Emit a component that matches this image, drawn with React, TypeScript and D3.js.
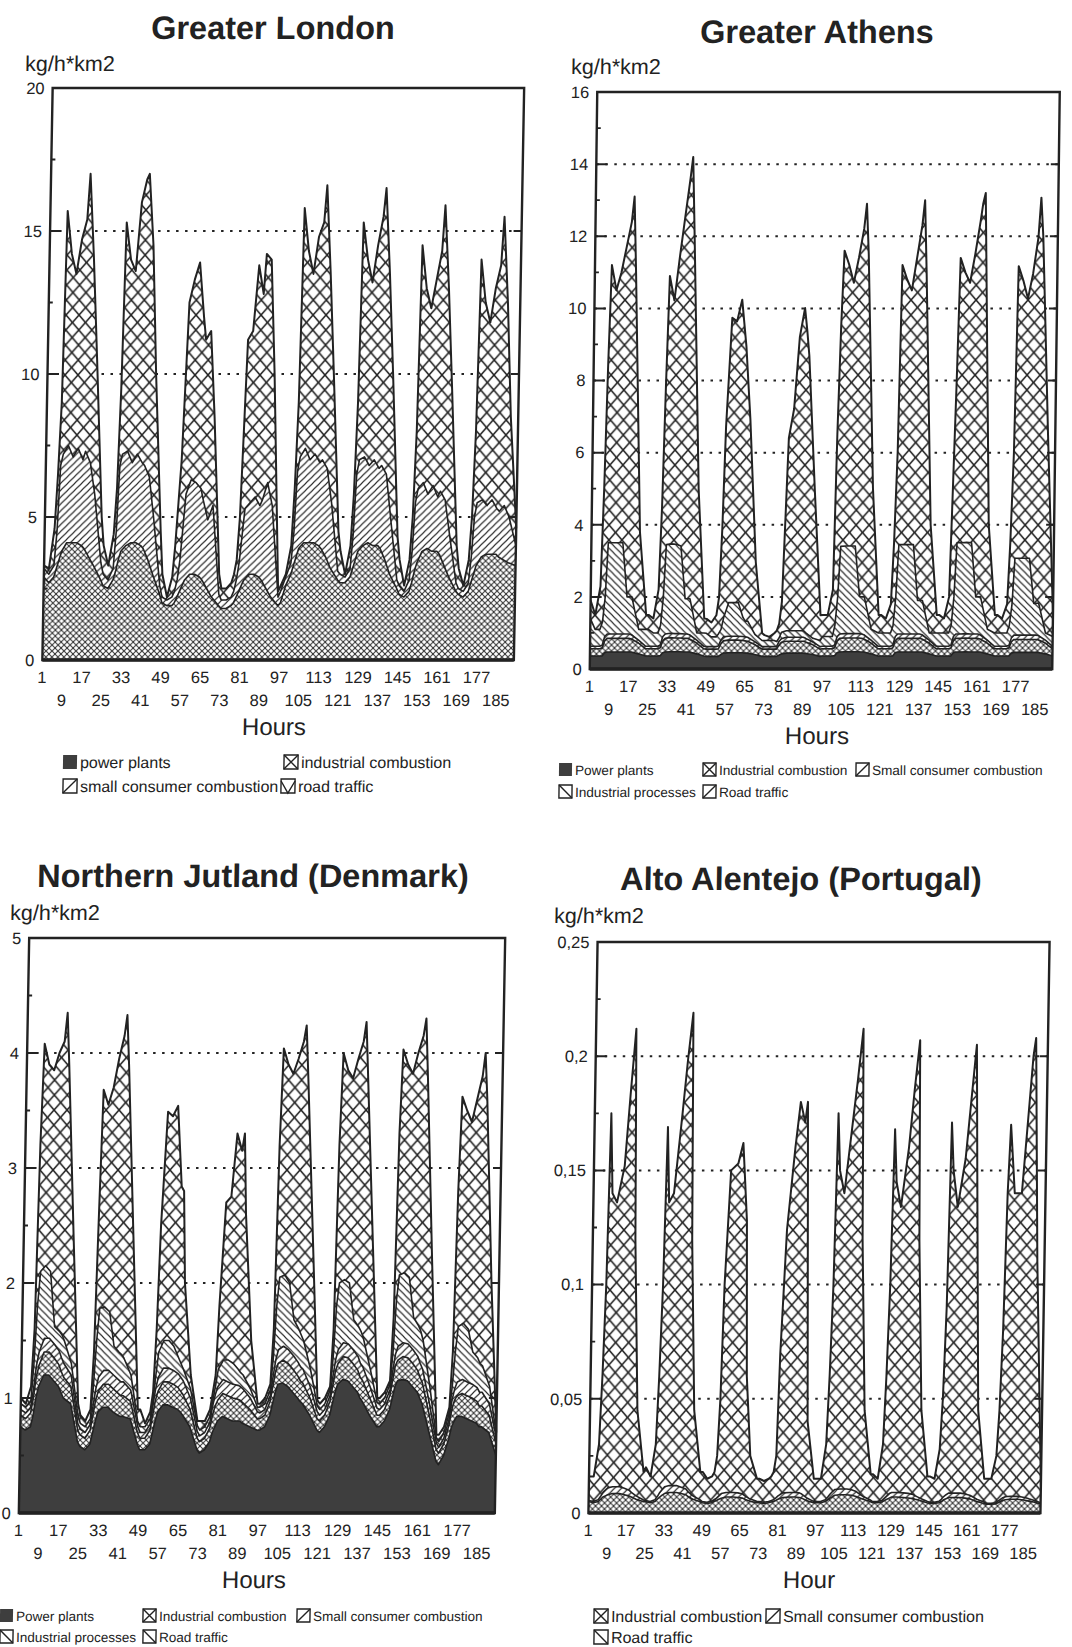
import React from 'react'
import * as d3 from 'd3'

// hour of the day at which each reading was taken, same grid for all 8 days
const londonDayHours = [1, 3, 5, 6, 7, 8, 10, 12, 14, 16, 17, 19, 21, 24]
const athensDayHours = [1, 3, 5, 6, 7, 8, 10, 12, 14, 16, 17, 18, 21, 24]
const jutlandDayHours = [1, 3, 5, 6, 7, 8, 10, 12, 14, 16, 17, 18, 21, 24]
const portugalDayHours = [1, 3, 5, 6, 7, 8, 9, 11, 14, 16, 18, 19, 21, 24]

const hourLabels = [1, 9, 17, 25, 33, 41, 49, 57, 65, 73, 81, 89, 97, 105, 113, 121, 129, 137, 145, 153, 161, 169, 177, 185]

const londonTicks = [0, 5, 10, 15, 20]
const athensTicks = [0, 2, 4, 6, 8, 10, 12, 14, 16]
const jutlandTicks = [0, 1, 2, 3, 4, 5]
const portugalTicks = [0, 0.05, 0.1, 0.15, 0.2, 0.25]

// ---- Greater London (one row per day) ----
const londonIndustrial = [
  [2.9, 2.7, 2.9, 3.2, 3.5, 3.8, 4.1, 4.1, 4.1, 4.0, 3.9, 3.6, 3.3, 2.8],
  [2.6, 2.5, 2.8, 3.1, 3.5, 3.8, 4.0, 4.1, 4.1, 4.0, 3.9, 3.5, 3.0, 2.3],
  [2.0, 1.9, 1.9, 2.0, 2.2, 2.4, 2.8, 3.0, 3.0, 2.9, 2.8, 2.5, 2.2, 1.9],
  [1.8, 1.8, 1.9, 2.0, 2.2, 2.4, 2.8, 3.0, 3.0, 2.9, 2.8, 2.5, 2.2, 1.9],
  [2.0, 2.6, 3.0, 3.3, 3.6, 3.9, 4.1, 4.1, 4.1, 4.0, 3.9, 3.6, 3.2, 2.8],
  [2.7, 2.7, 2.9, 3.2, 3.5, 3.8, 4.0, 4.1, 4.0, 4.0, 3.9, 3.5, 3.0, 2.5],
  [2.3, 2.2, 2.4, 2.7, 3.1, 3.4, 3.8, 3.9, 3.8, 3.8, 3.7, 3.3, 2.9, 2.4],
  [2.3, 2.2, 2.4, 2.7, 3.0, 3.3, 3.6, 3.7, 3.7, 3.7, 3.6, 3.5, 3.4, 3.3],
]
const londonSmall = [
  [0.3, 0.3, 0.4, 1.3, 3.3, 3.4, 3.4, 3.0, 3.3, 3.0, 3.4, 3.3, 2.5, 0.6],
  [0.4, 0.3, 0.4, 1.4, 3.3, 3.4, 3.3, 2.8, 3.1, 2.9, 2.9, 2.9, 2.0, 0.3],
  [0.2, 0.2, 0.3, 0.4, 0.6, 1.1, 3.0, 3.3, 3.2, 3.1, 2.8, 2.4, 3.2, 0.4],
  [0.3, 0.3, 0.3, 0.4, 0.6, 1.0, 2.5, 2.5, 2.7, 2.5, 2.8, 3.7, 3.2, 0.3],
  [0.4, 0.3, 0.4, 1.2, 3.0, 3.2, 3.3, 2.9, 3.1, 2.9, 3.1, 3.1, 2.3, 0.3],
  [0.3, 0.2, 0.3, 1.2, 3.0, 3.2, 3.1, 2.7, 3.0, 2.7, 2.9, 3.0, 2.0, 0.3],
  [0.3, 0.2, 0.4, 1.1, 2.4, 2.6, 2.4, 1.9, 2.3, 1.9, 2.2, 2.3, 1.5, 0.3],
  [0.2, 0.2, 0.3, 0.9, 2.0, 2.2, 2.0, 1.7, 1.9, 1.6, 1.6, 1.9, 1.6, 0.7],
]
const londonRoad = [
  [0.1, 0.2, 1.3, 2.0, 2.2, 8.5, 6.7, 6.4, 7.3, 8.4, 9.7, 7.1, 4.7, 1.6],
  [1.0, 0.5, 1.2, 1.5, 2.7, 8.1, 6.7, 6.7, 8.8, 9.9, 10.2, 8.1, 5.0, 1.9],
  [0.8, 0.1, 0.7, 1.6, 2.7, 3.5, 6.7, 7.0, 7.7, 6.0, 5.6, 6.6, 3.1, 0.7],
  [0.4, 0.4, 0.5, 0.6, 0.7, 1.6, 5.9, 6.0, 8.1, 7.4, 8.6, 7.8, 4.6, 0.2],
  [0.2, 0.1, 0.6, 1.5, 2.4, 8.7, 6.9, 6.5, 7.6, 8.4, 9.6, 6.8, 4.5, 1.4],
  [0.8, 0.1, 0.8, 1.4, 2.5, 8.3, 6.9, 6.4, 7.5, 8.8, 9.7, 7.0, 5.0, 1.5],
  [0.9, 0.2, 0.7, 1.2, 2.5, 8.5, 6.8, 6.5, 7.2, 8.6, 10.0, 7.4, 5.1, 1.3],
  [0.7, 0.2, 0.8, 1.4, 3.0, 8.5, 6.9, 6.4, 7.4, 8.5, 10.3, 7.1, 3.5, 0.6],
]

// ---- Greater Athens ----
const athensPower = [
  [0.36, 0.36, 0.36, 0.36, 0.45, 0.47, 0.47, 0.47, 0.47, 0.47, 0.47, 0.47, 0.42, 0.36],
  [0.36, 0.36, 0.36, 0.37, 0.45, 0.47, 0.48, 0.48, 0.48, 0.47, 0.47, 0.47, 0.42, 0.36],
  [0.35, 0.35, 0.35, 0.35, 0.4, 0.44, 0.45, 0.45, 0.45, 0.45, 0.44, 0.44, 0.4, 0.35],
  [0.35, 0.35, 0.35, 0.35, 0.38, 0.42, 0.44, 0.44, 0.44, 0.44, 0.44, 0.43, 0.4, 0.35],
  [0.36, 0.36, 0.36, 0.37, 0.45, 0.47, 0.48, 0.48, 0.48, 0.48, 0.47, 0.47, 0.42, 0.36],
  [0.36, 0.36, 0.36, 0.36, 0.45, 0.47, 0.47, 0.47, 0.47, 0.47, 0.47, 0.47, 0.42, 0.36],
  [0.36, 0.36, 0.36, 0.36, 0.45, 0.47, 0.47, 0.48, 0.47, 0.47, 0.47, 0.47, 0.42, 0.36],
  [0.36, 0.36, 0.36, 0.36, 0.44, 0.46, 0.46, 0.46, 0.46, 0.46, 0.46, 0.46, 0.42, 0.36],
]
const athensIndustrial = [
  [0.2, 0.2, 0.2, 0.22, 0.33, 0.38, 0.38, 0.38, 0.38, 0.38, 0.38, 0.36, 0.3, 0.2],
  [0.2, 0.2, 0.2, 0.22, 0.33, 0.38, 0.39, 0.38, 0.38, 0.38, 0.38, 0.36, 0.3, 0.2],
  [0.2, 0.2, 0.2, 0.21, 0.3, 0.34, 0.35, 0.35, 0.35, 0.34, 0.34, 0.33, 0.28, 0.2],
  [0.2, 0.2, 0.2, 0.2, 0.28, 0.32, 0.33, 0.33, 0.33, 0.33, 0.33, 0.32, 0.27, 0.2],
  [0.2, 0.2, 0.2, 0.22, 0.33, 0.38, 0.38, 0.38, 0.38, 0.38, 0.38, 0.36, 0.3, 0.2],
  [0.2, 0.2, 0.2, 0.22, 0.33, 0.38, 0.38, 0.38, 0.38, 0.38, 0.38, 0.36, 0.3, 0.2],
  [0.2, 0.2, 0.2, 0.22, 0.33, 0.38, 0.38, 0.38, 0.38, 0.38, 0.38, 0.36, 0.3, 0.2],
  [0.2, 0.2, 0.2, 0.22, 0.32, 0.36, 0.36, 0.36, 0.36, 0.36, 0.36, 0.35, 0.3, 0.2],
]
const athensSmall = [
  [0.07, 0.07, 0.07, 0.08, 0.12, 0.12, 0.12, 0.12, 0.12, 0.12, 0.12, 0.12, 0.08, 0.07],
  [0.07, 0.07, 0.07, 0.08, 0.12, 0.12, 0.12, 0.12, 0.12, 0.12, 0.12, 0.12, 0.08, 0.07],
  [0.07, 0.07, 0.07, 0.08, 0.1, 0.11, 0.11, 0.11, 0.11, 0.11, 0.11, 0.11, 0.08, 0.07],
  [0.07, 0.07, 0.07, 0.07, 0.1, 0.1, 0.11, 0.11, 0.11, 0.11, 0.11, 0.1, 0.08, 0.07],
  [0.07, 0.07, 0.07, 0.08, 0.12, 0.12, 0.12, 0.12, 0.12, 0.12, 0.12, 0.12, 0.08, 0.07],
  [0.07, 0.07, 0.07, 0.08, 0.12, 0.12, 0.12, 0.12, 0.12, 0.12, 0.12, 0.12, 0.08, 0.07],
  [0.07, 0.07, 0.07, 0.08, 0.12, 0.12, 0.12, 0.12, 0.12, 0.12, 0.12, 0.12, 0.08, 0.07],
  [0.07, 0.07, 0.07, 0.08, 0.11, 0.12, 0.12, 0.12, 0.12, 0.12, 0.12, 0.12, 0.08, 0.07],
]
const athensProcesses = [
  [0.77, 0.47, 0.47, 0.64, 1.1, 2.53, 2.53, 2.53, 2.53, 1.03, 1.03, 1.05, 0.3, 0.47],
  [0.47, 0.37, 0.37, 0.54, 1.1, 2.48, 2.48, 2.48, 2.43, 0.98, 0.98, 1.0, 0.2, 0.37],
  [0.37, 0.27, 0.27, 0.34, 0.3, 0.53, 0.93, 0.93, 0.93, 0.53, 0.43, 0.45, 0.2, 0.17],
  [0.17, 0.17, 0.17, 0.14, 0.1, 0.18, 0.18, 0.18, 0.18, 0.18, 0.18, 0.15, 0.1, 0.17],
  [0.27, 0.27, 0.27, 0.54, 1.1, 2.43, 2.43, 2.43, 2.43, 1.03, 1.03, 1.05, 0.3, 0.37],
  [0.37, 0.37, 0.37, 0.54, 1.1, 2.48, 2.48, 2.48, 2.48, 0.93, 0.93, 0.95, 0.2, 0.37],
  [0.37, 0.37, 0.37, 0.54, 1.1, 2.53, 2.53, 2.53, 2.53, 1.03, 1.03, 1.05, 0.3, 0.37],
  [0.37, 0.37, 0.37, 0.54, 0.9, 2.13, 2.13, 2.13, 2.13, 0.88, 0.88, 0.9, 0.2, 0.27],
]
const athensRoad = [
  [0.5, 0.4, 1.2, 3.7, 6.5, 7.7, 7.0, 7.5, 8.2, 10.4, 11.1, 9.0, 2.7, 0.4],
  [0.4, 0.4, 1.2, 3.3, 6.0, 7.45, 6.75, 7.95, 9.1, 11.65, 12.25, 10.05, 4.0, 0.4],
  [0.4, 0.4, 0.6, 1.0, 2.8, 5.3, 7.9, 7.8, 8.4, 7.5, 6.6, 5.6, 2.0, 0.2],
  [0.15, 0.1, 0.2, 0.3, 0.4, 0.85, 5.35, 6.15, 8.15, 8.95, 8.35, 7.7, 4.1, 0.7],
  [0.6, 0.6, 1.3, 5.3, 7.5, 8.2, 7.8, 7.3, 8.0, 10.2, 10.9, 9.5, 3.9, 0.5],
  [0.5, 0.4, 0.8, 2.3, 4.0, 7.75, 7.35, 7.05, 7.95, 10.4, 11.1, 9.1, 3.0, 0.5],
  [0.5, 0.4, 1.0, 3.8, 6.0, 7.9, 7.5, 7.2, 8.0, 10.4, 10.9, 11.2, 2.9, 0.5],
  [0.5, 0.4, 0.8, 2.3, 4.2, 8.1, 7.7, 7.2, 7.9, 10.15, 11.25, 10.15, 5.5, 0.6],
]

// ---- Northern Jutland ----
const jutlandPower = [
  [0.75, 0.72, 0.75, 0.85, 1.0, 1.1, 1.2, 1.2, 1.15, 1.1, 1.05, 1.0, 0.95, 0.62],
  [0.58, 0.55, 0.6, 0.7, 0.8, 0.88, 0.92, 0.92, 0.88, 0.85, 0.84, 0.84, 0.82, 0.6],
  [0.55, 0.55, 0.6, 0.7, 0.8, 0.88, 0.94, 0.94, 0.92, 0.9, 0.88, 0.85, 0.75, 0.55],
  [0.52, 0.55, 0.62, 0.7, 0.75, 0.8, 0.84, 0.82, 0.8, 0.8, 0.8, 0.78, 0.75, 0.72],
  [0.72, 0.75, 0.85, 0.95, 1.05, 1.12, 1.13, 1.1, 1.05, 1.0, 0.97, 0.95, 0.85, 0.72],
  [0.7, 0.75, 0.85, 0.95, 1.05, 1.12, 1.16, 1.15, 1.1, 1.05, 1.0, 0.97, 0.85, 0.75],
  [0.75, 0.8, 0.9, 1.0, 1.1, 1.15, 1.16, 1.15, 1.1, 1.05, 1.0, 0.95, 0.7, 0.45],
  [0.42, 0.5, 0.65, 0.75, 0.8, 0.84, 0.84, 0.82, 0.8, 0.78, 0.75, 0.75, 0.7, 0.5],
]
const jutlandIndustrial = [
  [0.1, 0.1, 0.12, 0.15, 0.18, 0.18, 0.2, 0.2, 0.2, 0.19, 0.18, 0.18, 0.15, 0.1],
  [0.1, 0.1, 0.12, 0.15, 0.18, 0.18, 0.2, 0.2, 0.2, 0.19, 0.18, 0.18, 0.15, 0.1],
  [0.1, 0.1, 0.12, 0.15, 0.18, 0.18, 0.2, 0.2, 0.2, 0.19, 0.18, 0.18, 0.15, 0.1],
  [0.1, 0.1, 0.12, 0.15, 0.18, 0.18, 0.2, 0.2, 0.2, 0.19, 0.18, 0.18, 0.15, 0.1],
  [0.1, 0.1, 0.12, 0.15, 0.18, 0.18, 0.2, 0.2, 0.2, 0.19, 0.18, 0.18, 0.15, 0.1],
  [0.1, 0.1, 0.12, 0.15, 0.18, 0.18, 0.2, 0.2, 0.2, 0.19, 0.18, 0.18, 0.15, 0.1],
  [0.1, 0.1, 0.12, 0.15, 0.18, 0.18, 0.2, 0.2, 0.2, 0.19, 0.18, 0.18, 0.15, 0.1],
  [0.1, 0.1, 0.12, 0.15, 0.18, 0.18, 0.2, 0.2, 0.2, 0.19, 0.18, 0.18, 0.15, 0.1],
]
const jutlandSmall = [
  [0.05, 0.05, 0.05, 0.08, 0.1, 0.12, 0.12, 0.12, 0.12, 0.12, 0.12, 0.12, 0.1, 0.06],
  [0.05, 0.05, 0.05, 0.08, 0.1, 0.12, 0.12, 0.12, 0.12, 0.12, 0.12, 0.12, 0.1, 0.06],
  [0.05, 0.05, 0.05, 0.08, 0.1, 0.12, 0.12, 0.12, 0.12, 0.12, 0.12, 0.12, 0.1, 0.06],
  [0.05, 0.05, 0.05, 0.08, 0.1, 0.12, 0.12, 0.12, 0.12, 0.12, 0.12, 0.12, 0.1, 0.06],
  [0.05, 0.05, 0.05, 0.08, 0.1, 0.12, 0.12, 0.12, 0.12, 0.12, 0.12, 0.12, 0.1, 0.06],
  [0.05, 0.05, 0.05, 0.08, 0.1, 0.12, 0.12, 0.12, 0.12, 0.12, 0.12, 0.12, 0.1, 0.06],
  [0.05, 0.05, 0.05, 0.08, 0.1, 0.12, 0.12, 0.12, 0.12, 0.12, 0.12, 0.12, 0.1, 0.06],
  [0.05, 0.05, 0.05, 0.08, 0.1, 0.12, 0.12, 0.12, 0.12, 0.12, 0.12, 0.12, 0.1, 0.06],
]
const jutlandProcesses = [
  [0.05, 0.05, 0.05, 0.22, 0.52, 0.7, 0.63, 0.58, 0.15, 0.17, 0.2, 0.2, 0.1, 0.07],
  [0.05, 0.05, 0.05, 0.17, 0.42, 0.6, 0.55, 0.51, 0.25, 0.24, 0.24, 0.21, 0.13, 0.04],
  [0.05, 0.05, 0.05, 0.05, 0.12, 0.22, 0.24, 0.24, 0.21, 0.14, 0.12, 0.1, 0.08, 0.05],
  [0.05, 0.05, 0.05, 0.05, 0.07, 0.15, 0.17, 0.19, 0.18, 0.14, 0.12, 0.12, 0.08, 0.04],
  [0.05, 0.05, 0.05, 0.17, 0.47, 0.63, 0.62, 0.58, 0.31, 0.29, 0.28, 0.25, 0.15, 0.05],
  [0.05, 0.05, 0.05, 0.17, 0.47, 0.58, 0.55, 0.53, 0.26, 0.26, 0.28, 0.25, 0.15, 0.05],
  [0.05, 0.05, 0.05, 0.17, 0.47, 0.62, 0.61, 0.58, 0.28, 0.27, 0.28, 0.25, 0.15, 0.04],
  [0.05, 0.05, 0.05, 0.12, 0.32, 0.48, 0.49, 0.46, 0.28, 0.26, 0.25, 0.23, 0.15, 0.02],
]
const jutlandRoad = [
  [0.05, 0.03, 0.13, 0.3, 1.4, 1.98, 1.75, 1.75, 2.38, 2.52, 2.8, 2.4, 1.1, 0.1],
  [0.07, 0.05, 0.08, 0.3, 1.1, 1.9, 1.76, 1.95, 2.5, 2.75, 2.95, 2.55, 1.2, 0.1],
  [0.15, 0.03, 0.06, 0.07, 0.4, 1.1, 1.99, 1.95, 2.09, 1.49, 1.5, 0.75, 0.12, 0.04],
  [0.08, 0.05, 0.06, 0.07, 0.1, 0.55, 1.37, 1.42, 2.0, 1.9, 2.08, 1.4, 0.42, 0.03],
  [0.03, 0.05, 0.05, 0.25, 1.4, 1.99, 1.83, 1.82, 2.27, 2.5, 2.69, 2.3, 1.15, 0.05],
  [0.05, 0.05, 0.03, 0.25, 1.4, 2.0, 1.82, 1.78, 2.27, 2.48, 2.69, 2.28, 1.15, 0.04],
  [0.05, 0.05, 0.03, 0.3, 1.45, 1.96, 1.81, 1.77, 2.3, 2.52, 2.72, 2.3, 1.1, 0.03],
  [0.06, 0.05, 0.05, 0.3, 1.4, 2.0, 1.85, 1.8, 2.2, 2.45, 2.7, 2.32, 0.9, 0.02],
]

// ---- Alto Alentejo ----
const portugalIndustrial = [
  [0.005, 0.0045, 0.005, 0.006, 0.007, 0.0075, 0.008, 0.0085, 0.0085, 0.008, 0.0075, 0.007, 0.006, 0.005],
  [0.005, 0.0045, 0.005, 0.006, 0.007, 0.0078, 0.0085, 0.009, 0.009, 0.0085, 0.008, 0.0072, 0.006, 0.005],
  [0.0045, 0.0042, 0.0045, 0.005, 0.0055, 0.006, 0.0065, 0.007, 0.007, 0.0068, 0.0065, 0.006, 0.0052, 0.0045],
  [0.0045, 0.0042, 0.0045, 0.0048, 0.005, 0.0055, 0.006, 0.0068, 0.007, 0.007, 0.0068, 0.0065, 0.0055, 0.0045],
  [0.0045, 0.0045, 0.005, 0.0058, 0.0065, 0.0072, 0.0078, 0.008, 0.008, 0.0078, 0.0072, 0.0068, 0.006, 0.005],
  [0.0045, 0.0045, 0.0048, 0.0055, 0.006, 0.0065, 0.007, 0.007, 0.0068, 0.0066, 0.0063, 0.006, 0.0055, 0.0045],
  [0.0042, 0.0042, 0.0045, 0.005, 0.0058, 0.0062, 0.0068, 0.0068, 0.0068, 0.0065, 0.0062, 0.0058, 0.005, 0.0042],
  [0.0038, 0.0038, 0.004, 0.0045, 0.005, 0.0055, 0.0058, 0.006, 0.006, 0.0058, 0.0055, 0.0052, 0.0048, 0.004],
]
const portugalSmall = [
  [0.0005, 0.0005, 0.0008, 0.0012, 0.002, 0.0025, 0.003, 0.003, 0.003, 0.0028, 0.0025, 0.002, 0.0015, 0.0008],
  [0.0005, 0.0005, 0.0008, 0.0012, 0.002, 0.0025, 0.003, 0.003, 0.003, 0.0028, 0.0025, 0.002, 0.0015, 0.0008],
  [0.0005, 0.0005, 0.0006, 0.0008, 0.001, 0.0015, 0.002, 0.002, 0.002, 0.002, 0.0018, 0.0015, 0.001, 0.0006],
  [0.0005, 0.0005, 0.0005, 0.0006, 0.0008, 0.001, 0.0015, 0.002, 0.002, 0.002, 0.002, 0.0018, 0.0012, 0.0006],
  [0.0005, 0.0005, 0.0008, 0.0012, 0.0018, 0.0022, 0.0025, 0.0025, 0.0025, 0.0024, 0.0022, 0.0018, 0.0012, 0.0007],
  [0.0005, 0.0005, 0.0007, 0.001, 0.0015, 0.002, 0.002, 0.002, 0.002, 0.002, 0.0018, 0.0015, 0.001, 0.0006],
  [0.0005, 0.0005, 0.0006, 0.001, 0.0014, 0.0018, 0.0019, 0.0019, 0.0019, 0.0018, 0.0016, 0.0014, 0.001, 0.0006],
  [0.0004, 0.0004, 0.0005, 0.0007, 0.001, 0.0012, 0.0013, 0.0013, 0.0013, 0.0012, 0.0011, 0.001, 0.0008, 0.0005],
]
const portugalRoad = [
  [0.0105, 0.011, 0.0242, 0.0528, 0.091, 0.165, 0.129, 0.1245, 0.1405, 0.1722, 0.202, 0.111, 0.0375, 0.0122],
  [0.0145, 0.011, 0.0242, 0.0528, 0.091, 0.1587, 0.1245, 0.128, 0.162, 0.1867, 0.2085, 0.1108, 0.0375, 0.0122],
  [0.013, 0.0103, 0.0109, 0.0122, 0.0185, 0.0425, 0.0915, 0.141, 0.144, 0.1532, 0.1197, 0.0525, 0.0188, 0.0099],
  [0.01, 0.0093, 0.01, 0.0106, 0.0122, 0.0185, 0.0625, 0.1152, 0.151, 0.171, 0.1622, 0.1717, 0.0333, 0.0099],
  [0.01, 0.01, 0.0242, 0.053, 0.0917, 0.1656, 0.1397, 0.1295, 0.1595, 0.1798, 0.2026, 0.1114, 0.0378, 0.0113],
  [0.012, 0.01, 0.0245, 0.0535, 0.0925, 0.1595, 0.136, 0.125, 0.1512, 0.1764, 0.1989, 0.1125, 0.0385, 0.0109],
  [0.0113, 0.0103, 0.0229, 0.044, 0.0828, 0.163, 0.1413, 0.1253, 0.1463, 0.1717, 0.1972, 0.1428, 0.039, 0.0102],
  [0.0108, 0.0108, 0.0205, 0.0398, 0.074, 0.1333, 0.1629, 0.1327, 0.1327, 0.163, 0.1934, 0.2018, 0.1044, 0.0075],
]

const FONT = '"Liberation Sans", Arial, Helvetica, sans-serif'
const INK = '#222'
const SOLID = '#3e3e3e'

type Layer = { key: string; values: number[][]; fill: string }
type LegendItem = { label: string; icon: string; x: number; row: number }
type Cfg = {
  title: string; titleX: number; titleY: number
  unitX: number; unitY: number
  left: number; right: number; top: number; bottom: number
  slant: number // the scanned page leans a little: x shift per px of height
  ticks: number[]; dayHours: number[]; layers: Layer[]
  axisTitle: string; axisX: number
  legend: LegendItem[]; legendY: number; legendGap: number; legendFont: number
}

const panels: Cfg[] = [
  {
    title: 'Greater London', titleX: 273, titleY: 39, unitX: 25, unitY: 71,
    left: 47.5, right: 519, top: 88, bottom: 660, slant: 0.018,
    ticks: londonTicks, dayHours: londonDayHours,
    layers: [
      { key: 'ind', values: londonIndustrial, fill: 'url(#fineX)' },
      { key: 'small', values: londonSmall, fill: 'url(#slash)' },
      { key: 'road', values: londonRoad, fill: 'url(#bigX)' },
    ],
    axisTitle: 'Hours', axisX: 274,
    legend: [
      { label: 'power plants', icon: 'solid', x: 63, row: 0 },
      { label: 'industrial combustion', icon: 'x', x: 284, row: 0 },
      { label: 'small consumer combustion', icon: 'slash', x: 63, row: 1 },
      { label: 'road traffic', icon: 'check', x: 281, row: 1 },
    ],
    legendY: 768, legendGap: 24, legendFont: 16,
  },
  {
    title: 'Greater Athens', titleX: 817, titleY: 43, unitX: 571, unitY: 74,
    left: 593.5, right: 1056, top: 92, bottom: 669, slant: 0.013,
    ticks: athensTicks, dayHours: athensDayHours,
    layers: [
      { key: 'power', values: athensPower, fill: SOLID },
      { key: 'ind', values: athensIndustrial, fill: 'url(#fineX)' },
      { key: 'small', values: athensSmall, fill: 'url(#slash)' },
      { key: 'proc', values: athensProcesses, fill: 'url(#back)' },
      { key: 'road', values: athensRoad, fill: 'url(#bigX)' },
    ],
    axisTitle: 'Hours', axisX: 817,
    legend: [
      { label: 'Power plants', icon: 'solid', x: 559, row: 0 },
      { label: 'Industrial combustion', icon: 'x', x: 703, row: 0 },
      { label: 'Small consumer combustion', icon: 'slash', x: 856, row: 0 },
      { label: 'Industrial processes', icon: 'back', x: 559, row: 1 },
      { label: 'Road traffic', icon: 'slash', x: 703, row: 1 },
    ],
    legendY: 775, legendGap: 22, legendFont: 13.6,
  },
  {
    title: 'Northern Jutland (Denmark)', titleX: 253, titleY: 887, unitX: 10, unitY: 920,
    left: 24, right: 500, top: 938, bottom: 1513, slant: 0.018,
    ticks: jutlandTicks, dayHours: jutlandDayHours,
    layers: [
      { key: 'power', values: jutlandPower, fill: SOLID },
      { key: 'ind', values: jutlandIndustrial, fill: 'url(#fineX)' },
      { key: 'small', values: jutlandSmall, fill: 'url(#slash)' },
      { key: 'proc', values: jutlandProcesses, fill: 'url(#back)' },
      { key: 'road', values: jutlandRoad, fill: 'url(#bigX)' },
    ],
    axisTitle: 'Hours', axisX: 254,
    legend: [
      { label: 'Power plants', icon: 'solid', x: 0, row: 0 },
      { label: 'Industrial combustion', icon: 'x', x: 143, row: 0 },
      { label: 'Small consumer combustion', icon: 'slash', x: 297, row: 0 },
      { label: 'Industrial processes', icon: 'back', x: 0, row: 1 },
      { label: 'Road traffic', icon: 'back', x: 143, row: 1 },
    ],
    legendY: 1621, legendGap: 21, legendFont: 13.5,
  },
  {
    title: 'Alto Alentejo (Portugal)', titleX: 801, titleY: 890, unitX: 554, unitY: 923,
    left: 593, right: 1045, top: 942, bottom: 1513, slant: 0.016,
    ticks: portugalTicks, dayHours: portugalDayHours,
    layers: [
      { key: 'ind', values: portugalIndustrial, fill: 'url(#fineX)' },
      { key: 'small', values: portugalSmall, fill: 'url(#slash)' },
      { key: 'road', values: portugalRoad, fill: 'url(#bigX)' },
    ],
    axisTitle: 'Hour', axisX: 809,
    legend: [
      { label: 'Industrial combustion', icon: 'x', x: 594, row: 0 },
      { label: 'Small consumer combustion', icon: 'slash', x: 766, row: 0 },
      { label: 'Road traffic', icon: 'back', x: 594, row: 1 },
    ],
    legendY: 1622, legendGap: 21, legendFont: 16,
  },
]

function Swatch({ icon, x, y, s }: { icon: string; x: number; y: number; s: number }) {
  if (icon === 'solid') return <rect x={x} y={y} width={s} height={s} fill={SOLID} />
  let d = ''
  if (icon === 'x') d = `M${x},${y}L${x + s},${y + s}M${x + s},${y}L${x},${y + s}`
  else if (icon === 'slash') d = `M${x},${y + s}L${x + s},${y}`
  else if (icon === 'back') d = `M${x},${y}L${x + s},${y + s}`
  else d = `M${x},${y + 2}L${x + s / 2},${y + s}L${x + s},${y + 2}`
  return (
    <g>
      <rect x={x} y={y} width={s} height={s} fill="#fff" stroke={INK} strokeWidth={1.4} />
      <path d={d} stroke={INK} strokeWidth={1.4} fill="none" />
    </g>
  )
}

type Row = Record<string, number>

function Panel({ cfg }: { cfg: Cfg }) {
  const yMax = cfg.ticks[cfg.ticks.length - 1]
  const x = d3.scaleLinear().domain([1, 192]).range([cfg.left, cfg.right])
  const y = d3.scaleLinear().domain([0, yMax]).range([cfg.bottom, cfg.top])

  const hours = d3.range(8).flatMap((day) => cfg.dayHours.map((h) => day * 24 + h))
  const flat = cfg.layers.map((l) => l.values.flat())
  const table: Row[] = hours.map((hour, i) => {
    const row: Row = { hour }
    cfg.layers.forEach((l, j) => { row[l.key] = flat[j][i] })
    return row
  })
  const series = d3.stack<Row>().keys(cfg.layers.map((l) => l.key))(table)

  const area = d3.area<d3.SeriesPoint<Row>>()
    .x((d) => x(d.data.hour)).y0((d) => y(d[0])).y1((d) => y(d[1]))
  const edge = d3.line<d3.SeriesPoint<Row>>()
    .x((d) => x(d.data.hour)).y((d) => y(d[1]))

  const minor = cfg.ticks.slice(1).map((t, i) => (t + cfg.ticks[i]) / 2)
  const fmt = (v: number) => String(+v.toFixed(3)).replace('.', ',')
  const s = cfg.legendFont >= 15 ? 14 : 13

  const cy = (cfg.top + cfg.bottom) / 2
  const ang = (-Math.atan(cfg.slant) * 180) / Math.PI
  const ux = (xPage: number, yy: number) => xPage + cfg.slant * (yy - cy)

  return (
    <g fontFamily={FONT} fill={INK} transform={`translate(0,${cy}) skewX(${ang}) translate(0,${-cy})`}>
      <text x={ux(cfg.titleX, cfg.titleY - 12)} y={cfg.titleY} textAnchor="middle" fontSize={32.5} fontWeight="bold">{cfg.title}</text>
      <text x={ux(cfg.unitX, cfg.unitY)} y={cfg.unitY} fontSize={21.5}>kg/h*km2</text>

      {cfg.ticks.slice(1, -1).map((t) => (
        <line key={'g' + t} x1={cfg.left} x2={cfg.right} y1={y(t)} y2={y(t)}
          stroke={INK} strokeWidth={2} strokeDasharray="2.5,6.5" />
      ))}

      {series.map((sr, i) => (
        <path key={'a' + i} d={area(sr) || ''} fill={cfg.layers[i].fill} stroke="none" />
      ))}
      {series.map((sr, i) => (
        <path key={'e' + i} d={edge(sr) || ''} fill="none" stroke={INK}
          strokeWidth={i === series.length - 1 ? 2 : 1.6} strokeLinejoin="round" />
      ))}

      <rect x={cfg.left} y={cfg.top} width={cfg.right - cfg.left} height={cfg.bottom - cfg.top}
        fill="none" stroke={INK} strokeWidth={2.4} />
      <line x1={cfg.left} x2={cfg.right} y1={cfg.bottom} y2={cfg.bottom} stroke={INK} strokeWidth={3.5} />

      {cfg.ticks.slice(1, -1).map((t) => (
        <g key={'t' + t} stroke={INK} strokeWidth={2}>
          <line x1={cfg.left} x2={cfg.left + 11} y1={y(t)} y2={y(t)} />
          <line x1={cfg.right} x2={cfg.right - 8} y1={y(t)} y2={y(t)} />
        </g>
      ))}
      {minor.map((t) => (
        <line key={'m' + t} x1={cfg.left} x2={cfg.left + 4} y1={y(t)} y2={y(t)} stroke={INK} strokeWidth={1.8} />
      ))}

      {cfg.ticks.map((t) => (
        <text key={'l' + t} x={cfg.left - 8} y={y(t)} dy="0.35em" textAnchor="end" fontSize={16.5}>{fmt(t)}</text>
      ))}

      {hourLabels.map((h, i) => (
        <text key={'h' + h} x={x(h)} y={cfg.bottom + (i % 2 ? 46 : 23)} textAnchor="middle" fontSize={16.5}>{h}</text>
      ))}
      <text x={ux(cfg.axisX, cfg.bottom + 67)} y={cfg.bottom + 75} textAnchor="middle" fontSize={24}>{cfg.axisTitle}</text>

      {cfg.legend.map((it) => {
        const base = cfg.legendY + it.row * cfg.legendGap
        const lx = ux(it.x, base - 6)
        return (
          <g key={it.label}>
            <Swatch icon={it.icon} x={lx} y={base - s + 1} s={s} />
            <text x={lx + s + 3} y={base} fontSize={cfg.legendFont}>{it.label}</text>
          </g>
        )
      })}
    </g>
  )
}

export default function App() {
  return (
    <svg width={1072} height={1647} style={{ position: 'absolute', left: 0, top: 0, background: '#fff' }}>
      <defs>
        <pattern id="bigX" width={13} height={15} patternUnits="userSpaceOnUse">
          <rect width={13} height={15} fill="#fff" />
          <path d="M-1,-1.15L14,16.15M14,-1.15L-1,16.15" stroke={INK} strokeWidth={1.6} fill="none" />
        </pattern>
        <pattern id="fineX" width={6} height={6} patternUnits="userSpaceOnUse">
          <rect width={6} height={6} fill="#fff" />
          <path d="M-1,-1L7,7M7,-1L-1,7" stroke={INK} strokeWidth={1} fill="none" />
        </pattern>
        <pattern id="slash" width={7} height={7} patternUnits="userSpaceOnUse">
          <rect width={7} height={7} fill="#fff" />
          <path d="M-1,8L8,-1M-1,1L1,-1M6,8L8,6" stroke={INK} strokeWidth={1.1} fill="none" />
        </pattern>
        <pattern id="back" width={7} height={7} patternUnits="userSpaceOnUse">
          <rect width={7} height={7} fill="#fff" />
          <path d="M-1,-1L8,8M-1,6L1,8M6,-1L8,1" stroke={INK} strokeWidth={1.1} fill="none" />
        </pattern>
      </defs>
      <rect width={1072} height={1647} fill="#fff" />
      {panels.map((p) => <Panel key={p.title} cfg={p} />)}
    </svg>
  )
}
